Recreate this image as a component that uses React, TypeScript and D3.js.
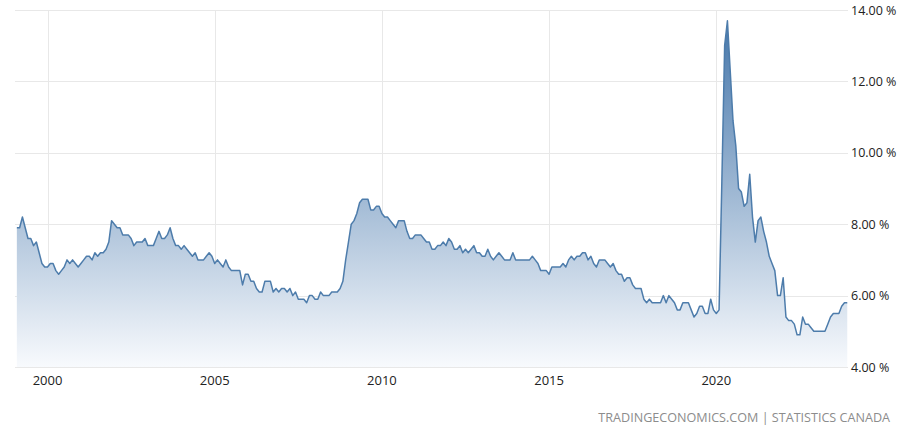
import { useRef, useEffect } from "react";
import * as d3 from "d3";

// monthly unemployment rate, Feb 1999 .. Dec 2023
const startYear = 1999;
const startMonth = 1; // 0 = Jan
const rates: number[] = [
  7.9, 7.9, 8.2, 7.9, 7.6, 7.6, 7.4, 7.5, 7.2, 6.9, 6.8, // 1999
  6.8, 6.9, 6.9, 6.7, 6.6, 6.7, 6.8, 7.0, 6.9, 7.0, 6.9, 6.8, // 2000
  6.9, 7.0, 7.1, 7.1, 7.0, 7.2, 7.1, 7.2, 7.2, 7.3, 7.5, 8.1, // 2001
  8.0, 7.9, 7.9, 7.7, 7.7, 7.7, 7.6, 7.4, 7.5, 7.5, 7.5, 7.6, // 2002
  7.4, 7.4, 7.4, 7.6, 7.8, 7.6, 7.6, 7.7, 7.9, 7.6, 7.4, 7.4, // 2003
  7.3, 7.4, 7.3, 7.2, 7.1, 7.2, 7.0, 7.0, 7.0, 7.1, 7.2, 7.1, // 2004
  6.9, 7.0, 6.9, 6.8, 7.0, 6.8, 6.7, 6.7, 6.7, 6.7, 6.3, 6.6, // 2005
  6.6, 6.4, 6.4, 6.2, 6.1, 6.1, 6.4, 6.4, 6.4, 6.1, 6.2, 6.1, // 2006
  6.2, 6.2, 6.1, 6.2, 6.0, 6.1, 5.9, 5.9, 5.9, 5.8, 6.0, 6.0, // 2007
  5.9, 5.9, 6.1, 6.0, 6.0, 6.0, 6.1, 6.1, 6.1, 6.2, 6.4, 7.0, // 2008
  7.5, 8.0, 8.1, 8.3, 8.6, 8.7, 8.7, 8.7, 8.4, 8.4, 8.5, 8.5, // 2009
  8.3, 8.2, 8.2, 8.1, 8.0, 7.9, 8.1, 8.1, 8.1, 7.8, 7.6, 7.6, // 2010
  7.7, 7.7, 7.7, 7.6, 7.5, 7.5, 7.3, 7.3, 7.4, 7.4, 7.5, 7.4, // 2011
  7.6, 7.5, 7.3, 7.3, 7.4, 7.2, 7.3, 7.2, 7.3, 7.4, 7.2, 7.2, // 2012
  7.1, 7.1, 7.3, 7.1, 7.0, 7.1, 7.2, 7.1, 7.0, 7.0, 7.0, 7.2, // 2013
  7.0, 7.0, 7.0, 7.0, 7.0, 7.0, 7.1, 7.0, 6.9, 6.7, 6.7, 6.7, // 2014
  6.6, 6.8, 6.8, 6.8, 6.8, 6.9, 6.8, 7.0, 7.1, 7.0, 7.1, 7.1, // 2015
  7.2, 7.2, 7.0, 7.1, 6.9, 6.8, 7.0, 7.0, 7.0, 6.9, 6.8, 6.9, // 2016
  6.7, 6.6, 6.6, 6.4, 6.5, 6.5, 6.3, 6.2, 6.2, 6.2, 5.9, 5.8, // 2017
  5.9, 5.8, 5.8, 5.8, 5.8, 6.0, 5.8, 6.0, 5.9, 5.8, 5.6, 5.6, // 2018
  5.8, 5.8, 5.8, 5.6, 5.4, 5.5, 5.7, 5.7, 5.5, 5.5, 5.9, 5.6, // 2019
  5.5, 5.6, 9.2, 13.0, 13.7, 12.3, 10.9, 10.2, 9.0, 8.9, 8.5, 8.6, // 2020
  9.4, 8.2, 7.5, 8.1, 8.2, 7.8, 7.5, 7.1, 6.9, 6.7, 6.0, 6.0, // 2021
  6.5, 5.4, 5.3, 5.3, 5.2, 4.9, 4.9, 5.4, 5.2, 5.2, 5.1, 5.0, // 2022
  5.0, 5.0, 5.0, 5.0, 5.2, 5.4, 5.5, 5.5, 5.5, 5.7, 5.8, 5.8, // 2023
];
const yearTicks = [2000, 2005, 2010, 2015, 2020];
const rateTicks = [4, 6, 8, 10, 12, 14];
const sourceText = "TRADINGECONOMICS.COM | STATISTICS CANADA";

const width = 900;
const height = 427;

const App = () => {
  const svgRef = useRef<SVGSVGElement>(null);

  useEffect(() => {
    if (!svgRef.current) return;
    const svg = d3.select(svgRef.current);
    svg.selectAll("*").remove();

    const left = 15;
    const right = 848;
    const top = 10;
    const bottom = 367;

    // decimal years -> px, Jan 2000 sits at ~47.5 and Jan 2020 at ~716
    const x = d3
      .scaleLinear()
      .domain([1999.028, 2023.939])
      .range([left, right]);
    const y = d3.scaleLinear().domain([4, 14]).range([bottom, top]);

    const points = rates.map((v, i) => ({
      t: startYear + (startMonth + i) / 12,
      v,
    }));

    const defs = svg.append("defs");
    const grad = defs
      .append("linearGradient")
      .attr("id", "areaFill")
      .attr("gradientUnits", "userSpaceOnUse")
      .attr("x1", 0)
      .attr("x2", 0)
      .attr("y1", top)
      .attr("y2", bottom);
    grad.append("stop").attr("offset", 0).attr("stop-color", "#4173a8");
    grad.append("stop").attr("offset", 1).attr("stop-color", "#f8fafd");

    //  grid
    const grid = svg.append("g").attr("stroke", "#e8e8e8").attr("stroke-width", 1);
    grid
      .selectAll("line.h")
      .data(rateTicks)
      .join("line")
      .attr("class", "h")
      .attr("x1", left)
      .attr("x2", right)
      .attr("y1", (d) => Math.round(y(d)) + 0.5)
      .attr("y2", (d) => Math.round(y(d)) + 0.5);
    grid
      .selectAll("line.v")
      .data(yearTicks)
      .join("line")
      .attr("class", "v")
      .attr("x1", (d) => Math.round(x(d)) + 0.5)
      .attr("x2", (d) => Math.round(x(d)) + 0.5)
      .attr("y1", top)
      .attr("y2", bottom);

    //  area + line
    const area = d3
      .area<{ t: number; v: number }>()
      .x((d) => x(d.t))
      .y0(bottom)
      .y1((d) => y(d.v));
    const line = d3
      .line<{ t: number; v: number }>()
      .x((d) => x(d.t))
      .y((d) => y(d.v));

    svg
      .append("path")
      .datum(points)
      .attr("fill", "url(#areaFill)")
      .attr("d", area);
    svg
      .append("path")
      .datum(points)
      .attr("fill", "none")
      .attr("stroke", "#4d7cab")
      .attr("stroke-width", 1.5)
      .attr("stroke-linejoin", "round")
      .attr("d", line);

    //  labels
    const font = "'Open Sans', 'DejaVu Sans', sans-serif";
    svg
      .append("g")
      .attr("font-family", font)
      .attr("font-size", 12.5)
      .attr("fill", "#222")
      .selectAll("text")
      .data(rateTicks)
      .join("text")
      .attr("x", 851)
      .attr("y", (d) => y(d) + 4.5)
      .text((d) => `${d.toFixed(2)} %`);

    svg
      .append("g")
      .attr("font-family", font)
      .attr("font-size", 13)
      .attr("fill", "#222")
      .attr("text-anchor", "middle")
      .selectAll("text")
      .data(yearTicks)
      .join("text")
      .attr("x", (d) => x(d))
      .attr("y", 385)
      .text((d) => d);

    svg
      .append("text")
      .attr("font-family", font)
      .attr("font-size", 12.6)
      .attr("fill", "#8c8c8c")
      .attr("text-anchor", "end")
      .attr("x", 890)
      .attr("y", 421.5)
      .text(sourceText);
  }, []);

  return (
    <svg
      ref={svgRef}
      width={width}
      height={height}
      style={{ position: "absolute", left: 0, top: 0, background: "#fff" }}
    />
  );
};

export default App;
